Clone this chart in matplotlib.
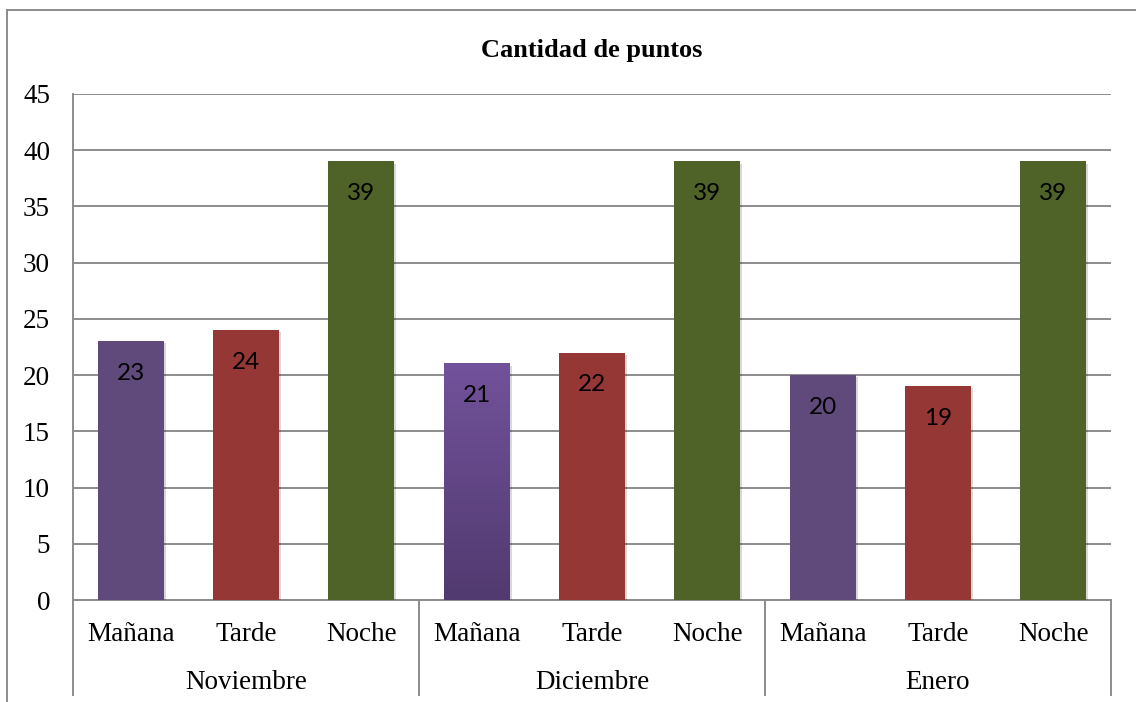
import numpy as np
import matplotlib.pyplot as plt
import matplotlib.patheffects as pe
from matplotlib.colors import LinearSegmentedColormap
from matplotlib.lines import Line2D

# Datos
meses = ['Noviembre', 'Diciembre', 'Enero']
turnos = ['Mañana', 'Tarde', 'Noche']
puntos = [
    [23, 24, 39],
    [21, 22, 39],
    [20, 19, 39],
]
colores = ['#604A7B', '#953735', '#4F6228']
y_ticks = list(range(0, 50, 5))

fig = plt.figure(figsize=(11.36, 7.02), dpi=100)
ax = fig.add_axes([73 / 1136, 102 / 702, (1111 - 73) / 1136, 506 / 702])

sombra = [pe.SimplePatchShadow(offset=(1.5, -1.5), shadow_rgbFace='#000000', alpha=0.15), pe.Normal()]
ancho = 0.57
x = 0
for g, mes in enumerate(meses):
    for t, turno in enumerate(turnos):
        v = puntos[g][t]
        bar = ax.bar(x, v, width=ancho, color=colores[t], zorder=3)[0]
        bar.set_path_effects(sombra)
        if g == 1 and t == 0:
            # barra con degradado
            cmap = LinearSegmentedColormap.from_list('deg', ['#513A6F', '#72529B'])
            grad = np.linspace(0, 1, 256).reshape(-1, 1)
            ax.imshow(grad, extent=[x - ancho / 2, x + ancho / 2, 0, v], origin='lower',
                      aspect='auto', cmap=cmap, zorder=4)
        ax.annotate(str(v), (x, v), xytext=(0, -23), textcoords='offset points',
                    ha='center', va='center', fontsize=17.5, family='Lato', zorder=5)
        ax.text(x, -0.069, turno, transform=ax.get_xaxis_transform(), ha='center', va='center',
                fontsize=19.5, family='Liberation Serif')
        x += 1
    ax.text(g * 3 + 1, -0.164, mes, transform=ax.get_xaxis_transform(), ha='center', va='center',
            fontsize=19.5, family='Liberation Serif')

ax.set_xlim(-0.5, 8.5)
ax.set_ylim(0, 45)
ax.set_yticks(y_ticks)
ax.set_yticklabels([str(v) for v in y_ticks], family='Liberation Serif', fontsize=19.5)
ax.tick_params(axis='y', length=0, pad=16.5)
ax.set_xticks([])
ax.grid(axis='y', color='#8C8C8C', linewidth=1.4, zorder=0)
ax.set_axisbelow(True)
for s in ['top', 'right']:
    ax.spines[s].set_visible(False)
ax.spines['bottom'].set_color('#8C8C8C')
ax.spines['bottom'].set_linewidth(1.4)
ax.spines['left'].set_visible(False)

# líneas de separación de grupos
for xs in [-0.5, 2.5, 5.5, 8.5]:
    top = 45 if xs == -0.5 else 0
    ln = Line2D([xs, xs], [-0.188, top / 45], transform=ax.get_xaxis_transform(),
                color='#8C8C8C', linewidth=1.4, clip_on=False)
    ax.add_line(ln)

ax.set_title('Cantidad de puntos', family='Liberation Serif', fontweight='bold',
             fontsize=19, pad=27)

# marco exterior del gráfico
fig.add_artist(Line2D([7 / 1136, 1.0], [1 - 10 / 702, 1 - 10 / 702], color='#8C8C8C', linewidth=1.4))
fig.add_artist(Line2D([7 / 1136, 7 / 1136], [0, 1 - 10 / 702], color='#8C8C8C', linewidth=1.4))

fig.savefig('out.png', dpi=100)
